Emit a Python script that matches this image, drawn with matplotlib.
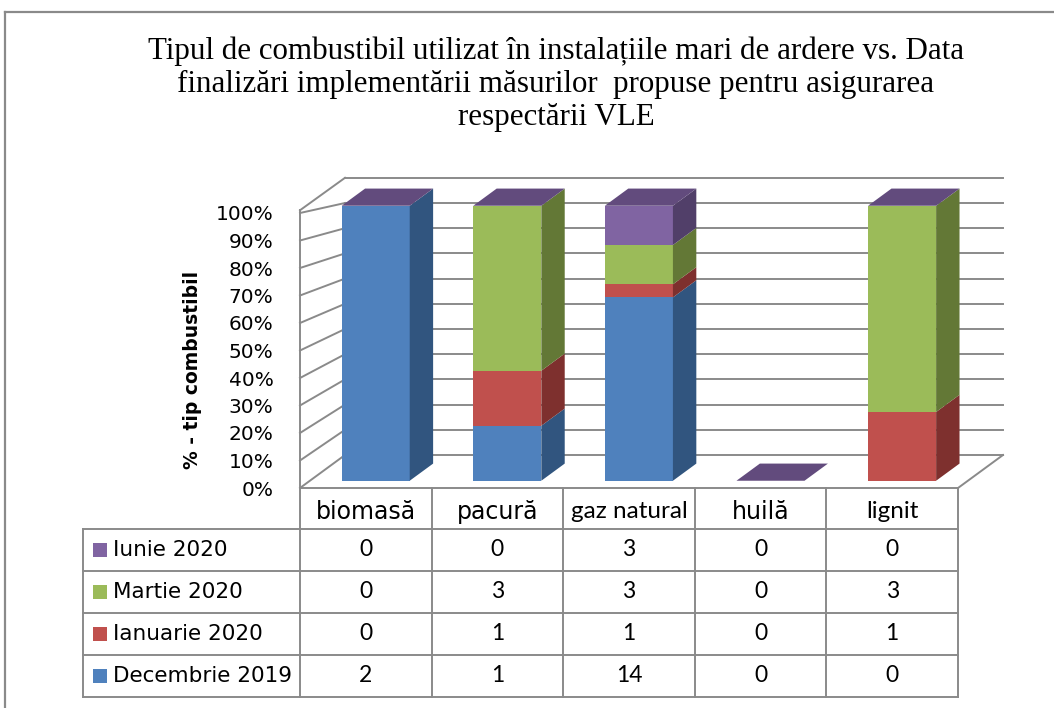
import matplotlib
matplotlib.use("Agg")
import matplotlib.pyplot as plt
from matplotlib.patches import Polygon, Rectangle
from matplotlib.lines import Line2D

# Date
categorii = ["biomasă", "pacură", "gaz natural", "huilă", "lignit"]
serii = ["Decembrie 2019", "Ianuarie 2020", "Martie 2020", "Iunie 2020"]
dec_2019 = [2, 1, 14, 0, 0]
ian_2020 = [0, 1, 1, 0, 1]
mar_2020 = [0, 3, 3, 0, 3]
iun_2020 = [0, 0, 3, 0, 0]
valori = [dec_2019, ian_2020, mar_2020, iun_2020]
yticks = list(range(0, 101, 10))
titlu = ["Tipul de combustibil utilizat în instalațiile mari de ardere vs. Data",
         "finalizări implementării măsurilor  propuse pentru asigurarea",
         "respectării VLE"]

# culori: fata, lateral, sus
culori = {
    "Decembrie 2019": ("#4F81BD", "#31557F", "#3D6596"),
    "Ianuarie 2020": ("#C0504D", "#7E302E", "#9A3D3A"),
    "Martie 2020": ("#9BBB59", "#637836", "#7D9746"),
    "Iunie 2020": ("#8064A2", "#513F69", "#624B7D"),
}
gri = "#8a8a8a"

W, H = 1054, 708
fig = plt.figure(figsize=(W / 100, H / 100), dpi=100)

# scala: px pe categorie / px pe procent
PX_CAT = 131.6
PX_PCT = 2.75
ax = fig.add_axes([300 / W, (H - 488) / H, 710 / W, 318 / H])
ax.set_xlim(-0.5, -0.5 + 710 / PX_CAT)
ax.set_ylim(0, 318 / PX_PCT)
for s in ax.spines.values():
    s.set_visible(False)
ax.set_xticks([])
ax.set_yticks(yticks)
ax.set_yticklabels([f"{v}%" for v in yticks], fontsize=14.5, family="DejaVu Sans")
ax.tick_params(axis="y", length=0, pad=19)

# adancime 3D
DX = 45 / PX_CAT
DY = 33 / PX_PCT
BACK_S = 252 / 275
n = len(categorii)
x0, x1 = -0.5, n - 0.5

def linie(xs, ys, **kw):
    ax.add_line(Line2D(xs, ys, color=gri, lw=1.4, clip_on=False, **kw))

# pereti si grila
for v in yticks:
    yb = DY + v * BACK_S
    linie([x0, x0 + DX], [v, yb])
    linie([x0 + DX, x1 + DX], [yb, yb])
linie([x0, x0], [0, 101])
linie([x0, x0 + DX], [101, DY + 110 * BACK_S])
linie([x0 + DX, x1 + DX], [DY + 110 * BACK_S, DY + 110 * BACK_S])
linie([x1, x1 + DX], [0, DY])

# bare 3D stivuite 100%
d_fata, d_spate = 0.22, 0.74
lat = 0.517
totaluri = [sum(v[i] for v in valori) for i in range(n)]
for i in range(n):
    tot = totaluri[i]
    xf = i + d_fata * DX - lat / 2
    yf = d_fata * DY
    ox = (d_spate - d_fata) * DX
    oy = (d_spate - d_fata) * DY
    baza = 0.0
    for nume, vals in zip(serii, valori):
        h = vals[i] / tot * 100 if tot else 0
        fata, lateral, sus = culori[nume]
        if h > 0:
            ax.add_patch(Rectangle((xf, yf + baza), lat, h, facecolor=fata,
                                   edgecolor="none", zorder=3))
            ax.add_patch(Polygon([(xf + lat, yf + baza), (xf + lat + ox, yf + baza + oy),
                                  (xf + lat + ox, yf + baza + h + oy), (xf + lat, yf + baza + h)],
                                 closed=True, facecolor=lateral, edgecolor="none", zorder=3))
        baza += h
    # fata de sus a ultimei serii
    sus = culori[serii[-1]][2]
    ax.add_patch(Polygon([(xf, yf + baza), (xf + ox, yf + baza + oy),
                          (xf + lat + ox, yf + baza + oy), (xf + lat, yf + baza)],
                         closed=True, facecolor=sus, edgecolor="none", zorder=4))

# tabel de date
HDR = 41 / PX_PCT
ROW = 42 / PX_PCT
x_leg = x0 - 217 / PX_CAT
y_rows = [-HDR - k * ROW for k in range(len(serii) + 1)]
linie([x0, x1], [0, 0])
for y in y_rows:
    linie([x_leg, x1], [y, y])
for k in range(n + 1):
    linie([x0 + k, x0 + k], [0, y_rows[-1]])
linie([x_leg, x_leg], [y_rows[0], y_rows[-1]])

font_cap = {"biomasă": ("DejaVu Sans", 17), "pacură": ("DejaVu Sans", 17),
            "huilă": ("DejaVu Sans", 17), "gaz natural": ("Lato", 17.5),
            "lignit": ("Lato", 17.5)}
for i, c in enumerate(categorii):
    fam, fs = font_cap[c]
    ax.text(i, -HDR / 2 - 1.2, c, ha="center", va="center", fontsize=fs,
            family=fam, clip_on=False)

for r, nume in enumerate(serii[::-1]):
    yc = (y_rows[r] + y_rows[r + 1]) / 2
    vals = valori[len(serii) - 1 - r]
    ax.add_patch(Rectangle((x_leg + 10 / PX_CAT, yc - 7 / PX_PCT), 14 / PX_CAT, 14 / PX_PCT,
                           facecolor=culori[nume][0], edgecolor="none", clip_on=False))
    ax.text(x_leg + 30 / PX_CAT, yc, nume, ha="left", va="center", fontsize=15.5,
            family="DejaVu Sans", clip_on=False)
    for i in range(n):
        ax.text(i, yc, str(vals[i]), ha="center", va="center", fontsize=16.5,
                family="Lato", clip_on=False)

# eticheta axei y
fig.text(192 / W, 1 - 370 / H, "% - tip combustibil", rotation=90, ha="center",
         va="center", fontsize=13.5, fontweight="bold", family="DejaVu Sans")

# titlu
for k, t in enumerate(titlu):
    fig.text(556 / W, 1 - (51 + 33.5 * k) / H, t, ha="center", va="center",
             fontsize=22.3, family="Liberation Serif")

# chenar
fig.add_artist(Line2D([5 / W, 1], [1 - 12 / H, 1 - 12 / H], color=gri, lw=1.6))
fig.add_artist(Line2D([5 / W, 5 / W], [0, 1 - 12 / H], color=gri, lw=1.6))

fig.savefig("out.png", dpi=100)
